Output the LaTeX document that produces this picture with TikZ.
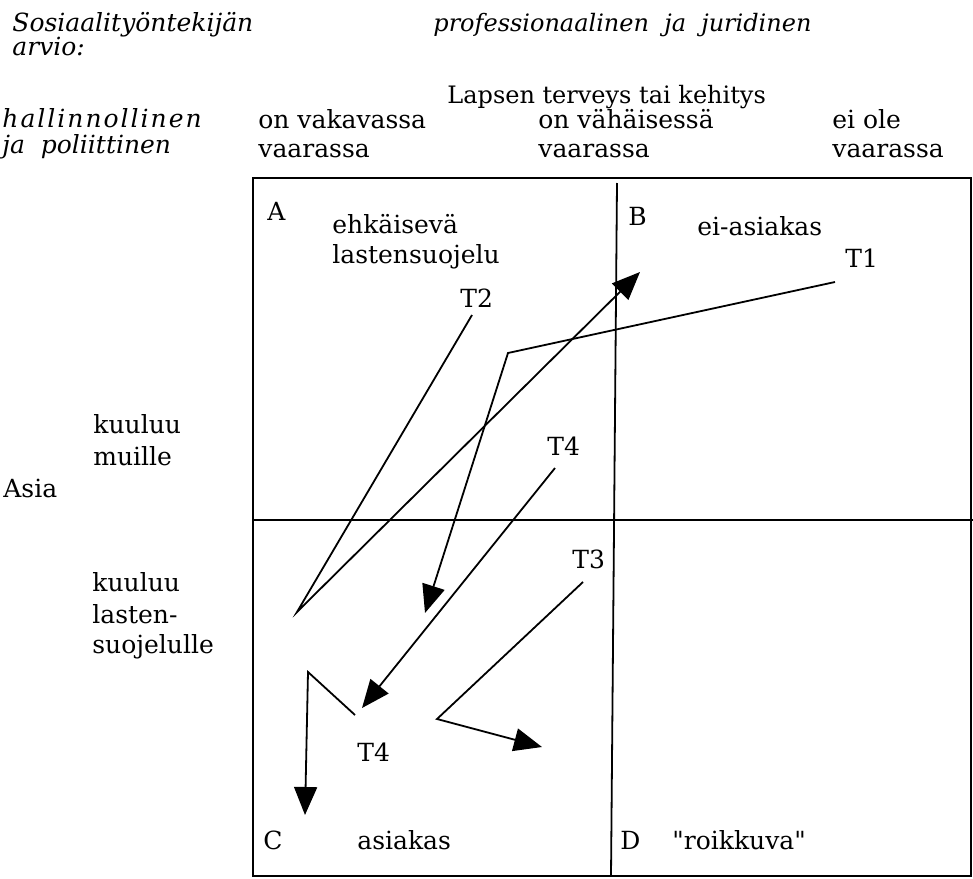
\documentclass[tikz,border=0pt]{standalone}
\usepackage{fontspec}
\setmainfont{DejaVu Serif}
\newfontfamily\suora{DejaVu Serif}
\usetikzlibrary{arrows.meta}

\tikzset{
  teksti/.style={anchor=base west, inner sep=0pt, font=\fontsize{12.5}{15}\selectfont},
  kursiivi/.style={teksti, font=\fontsize{12.5}{15}\selectfont\itshape},
  harva/.style={kursiivi, font=\fontsize{12.5}{15}\selectfont\itshape\addfontfeatures{LetterSpace=8}},
  viiva/.style={line width=0.9pt},
  nuoli/.style={viiva, -{Triangle[length=14pt,width=11.5pt]}}
}

\begin{document}
\begin{tikzpicture}[x=0.5pt,y=-0.5pt]
\useasboundingbox (0,0) rectangle (973,878);

% Otsikot
\node[kursiivi] (arvio1) at (12,32) {Sosiaalityöntekijän};
\node[kursiivi] (arvio2) at (12,55) {arvio:};
\node[kursiivi, font=\fontsize{12}{14}\selectfont\itshape] (prof) at (433,32) {professionaalinen\ \ ja\ \ juridinen};
\node[teksti, font=\fontsize{12}{14}\selectfont] (lapsen) at (447,103) {Lapsen terveys tai kehitys};
\node[harva] (hall1) at (2,127) {hallinnollinen};
\node[kursiivi] (hall2) at (2,153) {ja\ \ poliittinen};

% Sarakkeet
\node[teksti] (vak1) at (258,128) {on vakavassa};
\node[teksti] (vak2) at (258,157) {vaarassa};
\node[teksti] (vah1) at (538,128) {on vähäisessä};
\node[teksti] (vah2) at (538,157) {vaarassa};
\node[teksti] (eiole1) at (832,128) {ei ole};
\node[teksti] (eiole2) at (832,157) {vaarassa};

% Rivit
\node[teksti] (muille1) at (93,433) {kuuluu};
\node[teksti] (muille2) at (93,465) {muille};
\node[teksti] (asia) at (3,497) {Asia};
\node[teksti] (ls1) at (92,591) {kuuluu};
\node[teksti] (ls2) at (92,623) {lasten-};
\node[teksti] (ls3) at (92,653) {suojelulle};

% Nelikentta
\draw[line width=1.2pt] (253,178) rectangle (971,876);
\draw[viiva] (617,183) -- (611,876);
\draw[viiva] (253,520) -- (973,520);

\node[teksti] (A) at (267,220) {A};
\node[teksti] (ehk1) at (332,233) {ehkäisevä};
\node[teksti] (ehk2) at (332,263) {lastensuojelu};
\node[teksti] (B) at (628,225) {B};
\node[teksti] (eiasiakas) at (697,235) {ei-asiakas};
\node[teksti] (C) at (263,849) {C};
\node[teksti] (asiakas) at (357,849) {asiakas};
\node[teksti] (D) at (620,849) {D};
\node[teksti] (roikkuva) at (672,849) {\suora "roikkuva"};

% Tapaukset
\node[teksti] (T1) at (845,267) {T1};
\node[teksti] (T2) at (460,307) {T2};
\node[teksti] (T4a) at (547,455) {T4};
\node[teksti] (T3) at (572,568) {T3};
\node[teksti] (T4b) at (357,761) {T4};

\coordinate (t1a) at (835,282);
\coordinate (t1b) at (508,353);
\coordinate (t1c) at (425,613);
\draw[nuoli] (t1a) -- (t1b) -- (t1c);

\coordinate (t2a) at (472,315);
\coordinate (t2b) at (297,612);
\coordinate (t2c) at (640,272);
\draw[nuoli] (t2a) -- (t2b) -- (t2c);

\coordinate (t4a) at (555,468);
\coordinate (t4b) at (362,708);
\draw[nuoli] (t4a) -- (t4b);

\coordinate (t3a) at (583,582);
\coordinate (t3b) at (437,719);
\coordinate (t3c) at (542,747);
\draw[nuoli] (t3a) -- (t3b) -- (t3c);

\coordinate (t4c) at (355,715);
\coordinate (t4d) at (308,672);
\coordinate (t4e) at (305,815);
\draw[nuoli] (t4c) -- (t4d) -- (t4e);

\end{tikzpicture}
\end{document}
